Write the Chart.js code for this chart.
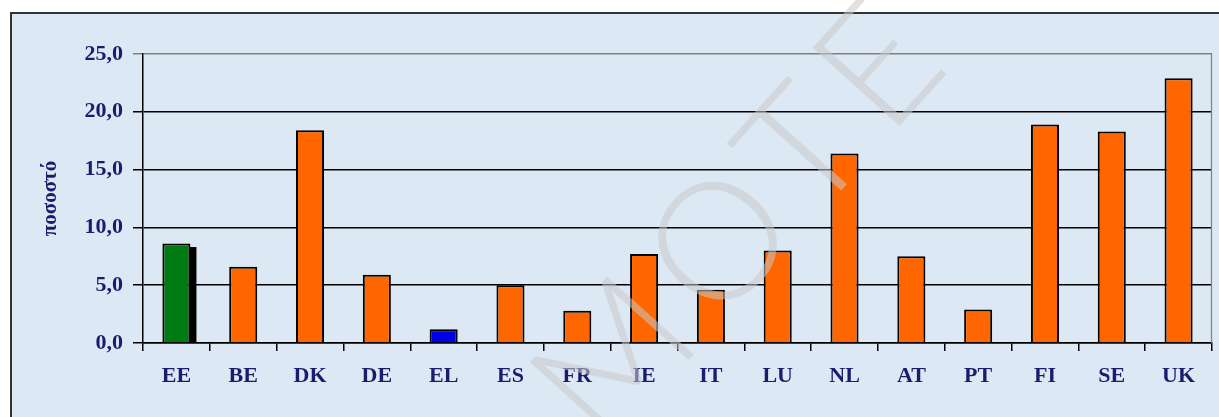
<!DOCTYPE html>
<html><head><meta charset="utf-8">
<script src="https://cdn.jsdelivr.net/npm/chart.js@4"></script>
<style>html,body{margin:0;padding:0;background:#fff;}canvas{display:block;}</style>
</head><body>
<canvas id="c" width="1219" height="417"></canvas>
<script>
const categories = ['EE','BE','DK','DE','EL','ES','FR','IE','IT','LU','NL','AT','PT','FI','SE','UK'];
const values = [8.6, 6.6, 18.4, 5.9, 1.2, 5.0, 2.8, 7.7, 4.6, 8.0, 16.4, 7.5, 2.9, 18.9, 18.3, 22.9];
const shadowValues = [8.3, null, null, null, null, null, null, null, null, null, null, null, null, null, null, null];
const barColors = ['#007a12','#ff6600','#ff6600','#ff6600','#0000e6','#ff6600','#ff6600','#ff6600','#ff6600','#ff6600','#ff6600','#ff6600','#ff6600','#ff6600','#ff6600','#ff6600'];
const yTicks = [0, 5, 10, 15, 20, 25];
const yTitle = 'ποσοστό';
const watermark = 'MOTE';

const textColor = '#1c1c6e';
const serif = "'Liberation Serif','DejaVu Serif',serif";

const bgPlugin = {
  id: 'bg',
  beforeDraw(chart) {
    const ctx = chart.ctx;
    ctx.save();
    ctx.fillStyle = '#ffffff';
    ctx.fillRect(0, 0, chart.width, chart.height);
    ctx.fillStyle = '#dce8f4';
    ctx.fillRect(10, 12, chart.width - 10, chart.height - 12);
    ctx.strokeStyle = '#333333';
    ctx.lineWidth = 2;
    ctx.beginPath();
    ctx.moveTo(11, chart.height);
    ctx.lineTo(11, 13);
    ctx.lineTo(chart.width, 13);
    ctx.stroke();
    ctx.restore();
  },
  beforeDatasetsDraw(chart) {
    const ctx = chart.ctx;
    const a = chart.chartArea;
    ctx.save();
    ctx.strokeStyle = '#808080';
    ctx.lineWidth = 1.2;
    ctx.beginPath();
    ctx.moveTo(a.right - 0.5, a.top);
    ctx.lineTo(a.right - 0.5, a.bottom);
    ctx.stroke();
    const meta = chart.getDatasetMeta(0);
    const ys = chart.scales.y;
    shadowValues.forEach((v, i) => {
      if (v == null) return;
      const el = meta.data[i];
      const x0 = el.x + el.width / 2;
      const yTop = ys.getPixelForValue(v);
      ctx.fillStyle = '#000000';
      ctx.fillRect(x0 - 1, yTop, 7, ys.getPixelForValue(0) - yTop);
    });
    ctx.restore();
  },
  afterDraw(chart) {
    const ctx = chart.ctx;
    ctx.save();
    ctx.translate(745, 218);
    ctx.rotate(-48 * Math.PI / 180);
    ctx.font = "300 165px Lato, 'Open Sans', sans-serif";
    try { ctx.letterSpacing = '18px'; } catch(e) {}
    ctx.textAlign = 'center';
    ctx.textBaseline = 'middle';
    ctx.fillStyle = 'rgba(200,200,200,0.55)';
    ctx.fillText(watermark, 0, 0);
    ctx.restore();
  }
};

new Chart(document.getElementById('c'), {
  type: 'bar',
  data: {
    labels: categories,
    datasets: [{
      data: values,
      backgroundColor: barColors,
      borderColor: '#000000',
      borderWidth: 2,
      borderSkipped: 'bottom',
      barPercentage: 0.42,
      categoryPercentage: 1.0
    }]
  },
  options: {
    responsive: false,
    animation: false,
    devicePixelRatio: 1,
    layout: { padding: { left: 0, top: 54, right: 7, bottom: 0 } },
    plugins: { legend: { display: false }, tooltip: { enabled: false } },
    scales: {
      x: {
        afterFit(s) { s.height = 74; },
        grid: {
          offset: true,
          drawOnChartArea: false,
          drawTicks: true,
          tickLength: 8,
          color: '#000000',
          lineWidth: 1.5
        },
        border: { display: true, color: '#000000', width: 1.5 },
        ticks: {
          color: textColor,
          padding: 12,
          font: { family: serif, size: 22, weight: 'bold' },
          maxRotation: 0,
          autoSkip: false
        }
      },
      y: {
        min: 0, max: 25,
        afterFit(s) { s.width = 143; },
        afterBuildTicks(s) { s.ticks = yTicks.map(v => ({ value: v })); },
        grid: {
          color: (c) => c.tick && c.tick.value === 25 ? '#808080' : '#000000',
          lineWidth: 1.5,
          tickLength: 10
        },
        border: { display: true, color: '#000000', width: 1.5 },
        ticks: {
          color: textColor,
          padding: 10,
          font: { family: serif, size: 22, weight: 'bold' },
          callback: (v) => Number(v).toFixed(1).replace('.', ',')
        },
        title: {
          display: true,
          text: yTitle,
          color: textColor,
          font: { family: serif, size: 21, weight: 'bold' },
          padding: { top: 38, bottom: 0 }
        }
      }
    }
  },
  plugins: [bgPlugin]
});
</script>
</body></html>
